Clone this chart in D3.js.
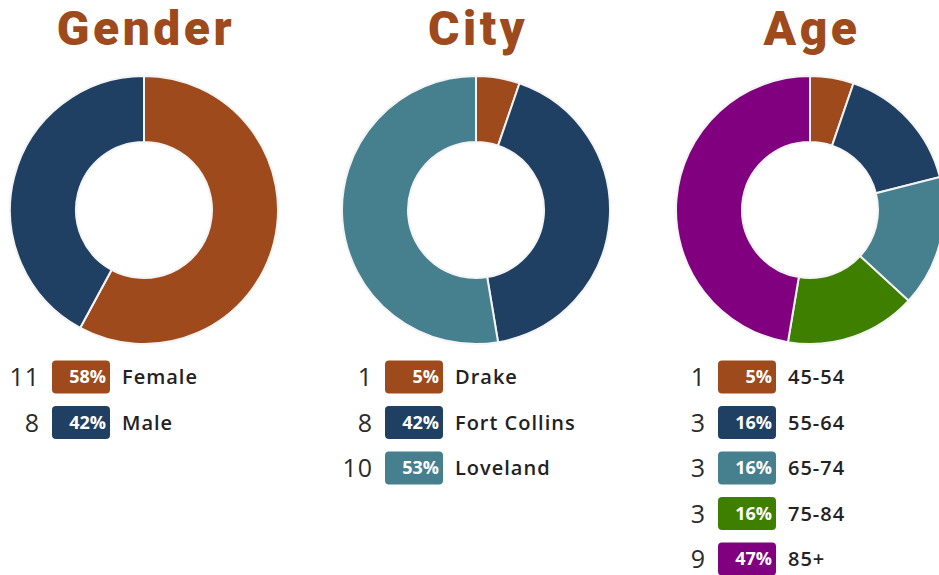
<!DOCTYPE html>
<html>
<head>
<meta charset="utf-8">
<script src="https://cdn.jsdelivr.net/npm/d3@7"></script>
<style>
  body { margin: 0; background: #fff; }
  svg { display: block; }
</style>
</head>
<body>
<div id="chart"></div>
<script>
// data
const titles = ["Gender", "City", "Age"];
const genderLabels = ["Female", "Male"];
const genderCounts = [11, 8];
const genderPct = ["58%", "42%"];
const cityLabels = ["Drake", "Fort Collins", "Loveland"];
const cityCounts = [1, 8, 10];
const cityPct = ["5%", "42%", "53%"];
const ageLabels = ["45-54", "55-64", "65-74", "75-84", "85+"];
const ageCounts = [1, 3, 3, 3, 9];
const agePct = ["5%", "16%", "16%", "16%", "47%"];

const orange = "#9e4a1c", navy = "#1f3f63", teal = "#46808e", green = "#3f7f00", purple = "#800080";
const genderColors = [orange, navy];
const cityColors = [orange, navy, teal];
const ageColors = [orange, navy, teal, green, purple];

const width = 939, height = 575;
const svg = d3.select("#chart").append("svg")
    .attr("width", width)
    .attr("height", height);

const panels = [
    { title: titles[0], labels: genderLabels, counts: genderCounts, pct: genderPct, colors: genderColors, cx: 144, lx: 52 },
    { title: titles[1], labels: cityLabels, counts: cityCounts, pct: cityPct, colors: cityColors, cx: 476, lx: 385 },
    { title: titles[2], labels: ageLabels, counts: ageCounts, pct: agePct, colors: ageColors, cx: 810, lx: 718 }
];

const outerR = 134, innerR = 68, cy = 210;
const pie = d3.pie().sort(null).value(d => d);
const arc = d3.arc().innerRadius(innerR).outerRadius(outerR);

panels.forEach(p => {
    // judul
    svg.append("text")
        .attr("x", p.cx + 2)
        .attr("y", 45)
        .attr("text-anchor", "middle")
        .attr("fill", "#9e4a1c")
        .attr("font-family", "Roboto, sans-serif")
        .attr("font-weight", 900)
        .attr("font-size", "48px")
        .attr("letter-spacing", "3.5px")
        .text(p.title);

    const g = svg.append("g")
        .attr("transform", `translate(${p.cx},${cy})`);

    g.selectAll("path")
        .data(pie(p.counts))
        .join("path")
        .attr("d", arc)
        .attr("fill", (d, i) => p.colors[i])
        .attr("stroke", "#f4f4f4")
        .attr("stroke-width", 2);

    // legend
    const rowY = d3.scaleLinear().domain([0, 1]).range([377, 422.5]);
    const leg = svg.append("g");
    p.labels.forEach((lab, i) => {
        const y = rowY(i);
        leg.append("text")
            .attr("x", p.lx - 12)
            .attr("y", y)
            .attr("dy", "0.36em")
            .attr("text-anchor", "end")
            .attr("fill", "#2b2b2b")
            .attr("font-family", "'Open Sans', sans-serif")
            .attr("font-weight", 500)
            .attr("font-size", "25px")
            .attr("letter-spacing", "1px")
            .text(p.counts[i]);

        leg.append("rect")
            .attr("x", p.lx)
            .attr("y", y - 16.5)
            .attr("width", 58)
            .attr("height", 33)
            .attr("rx", 4)
            .attr("fill", p.colors[i]);

        leg.append("text")
            .attr("x", p.lx + 54)
            .attr("y", y)
            .attr("dy", "0.36em")
            .attr("text-anchor", "end")
            .attr("fill", "#fff")
            .attr("font-family", "'Open Sans', sans-serif")
            .attr("font-weight", 700)
            .attr("font-size", "18px")
            .text(p.pct[i]);

        leg.append("text")
            .attr("x", p.lx + 70)
            .attr("y", y)
            .attr("dy", "0.36em")
            .attr("fill", "#222")
            .attr("font-family", "'Open Sans', sans-serif")
            .attr("font-weight", 600)
            .attr("font-size", "20px")
            .attr("letter-spacing", "1px")
            .text(lab);
    });
});
</script>
</body>
</html>
